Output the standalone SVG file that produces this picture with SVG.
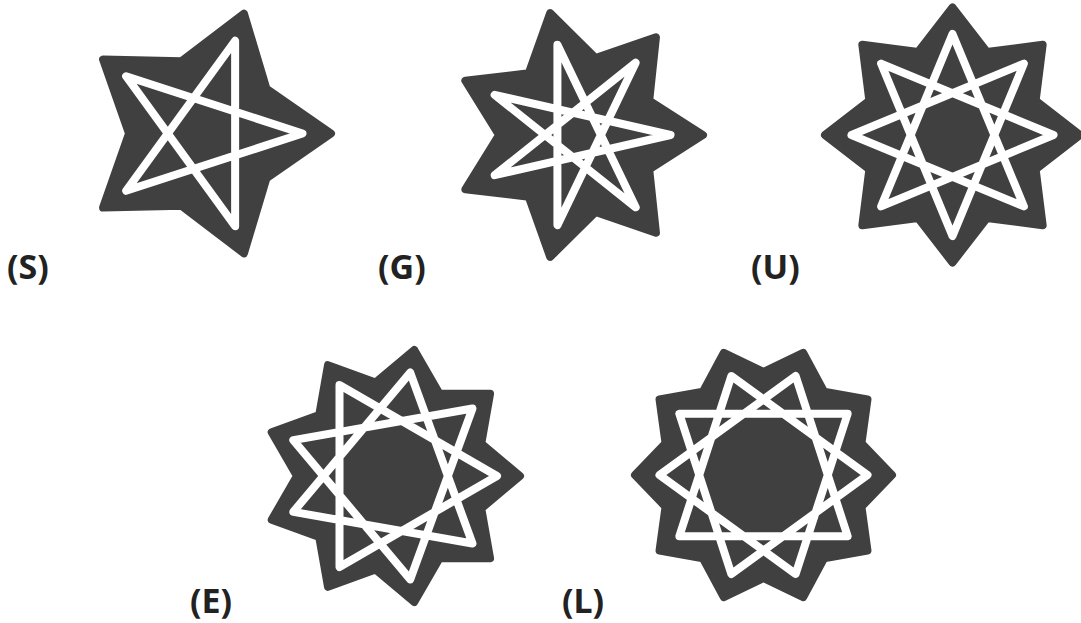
<svg xmlns="http://www.w3.org/2000/svg" width="1081" height="623" viewBox="0 0 1081 623">
<style>
.dark{fill:#404040;stroke:#404040;stroke-width:8;stroke-linejoin:round}
.line{fill:none;stroke:#ffffff;stroke-width:8;stroke-linejoin:round;stroke-linecap:round}
.lbl{font-family:"Noto Sans","Open Sans","DejaVu Sans",sans-serif;font-weight:bold;font-size:34px;fill:#222222}
</style>
<rect width="1081" height="623" fill="#ffffff"/>
<g id="star-S" transform="translate(205,133.5)">
<polygon class="dark" points="126,0 61.49,44.67 38.94,119.83 -23.49,72.28 -101.94,74.06 -76,0 -101.94,-74.06 -23.49,-72.28 38.94,-119.83 61.49,-44.67"/>
<path class="line" d="M97.5,0 L-78.88,57.31 L30.13,-92.73 L30.13,92.73 L-78.88,-57.31 Z"/>
</g>
<g id="star-G" transform="translate(578,135)">
<polygon class="dark" points="125,0 71.18,34.28 77.94,97.73 17.58,77.02 -27.82,121.87 -49.26,61.76 -112.62,54.24 -79,0 -112.62,-54.24 -49.26,-61.76 -27.82,-121.87 17.58,-77.02 77.94,-97.73 71.18,-34.28"/>
<path class="line" d="M92.5,0 L-83.34,40.13 L57.67,-72.32 L-20.58,90.18 L-20.58,-90.18 L57.67,72.32 L-83.34,-40.13 Z"/>
</g>
<g id="star-U" transform="translate(952.5,135)">
<polygon class="dark" points="127.5,0 83.15,34.44 90.16,90.16 34.44,83.15 0,127.5 -34.44,83.15 -90.16,90.16 -83.15,34.44 -127.5,0 -83.15,-34.44 -90.16,-90.16 -34.44,-83.15 0,-127.5 34.44,-83.15 90.16,-90.16 83.15,-34.44"/>
<path class="line" d="M101,0 L-71.42,71.42 L0,-101 L71.42,71.42 L-101,0 L71.42,-71.42 L0,101 L-71.42,-71.42 Z"/>
</g>
<g id="star-E" transform="translate(392,476)">
<polygon class="dark" points="128,0 89.27,32.49 98.05,82.28 47.5,82.27 22.23,126.06 -16.5,93.56 -64,110.85 -72.77,61.06 -120.28,43.78 -95,0 -120.28,-43.78 -72.77,-61.06 -64,-110.85 -16.5,-93.56 22.23,-126.06 47.5,-82.27 98.05,-82.28 89.27,-32.49"/>
<path class="line" d="M105,0 L-52.5,90.93 L-52.5,-90.93 Z M80.43,67.49 L-98.67,35.91 L18.23,-103.4 Z M18.23,103.4 L-98.67,-35.91 L80.43,-67.49 Z"/>
</g>
<g id="star-L" transform="translate(763.5,475)">
<polygon class="dark" points="128.5,0 97.96,31.83 103.96,75.53 60.54,83.33 39.71,122.21 0,103 -39.71,122.21 -60.54,83.33 -103.96,75.53 -97.96,31.83 -128.5,0 -97.96,-31.83 -103.96,-75.53 -60.54,-83.33 -39.71,-122.21 0,-103 39.71,-122.21 60.54,-83.33 103.96,-75.53 97.96,-31.83"/>
<path class="line" d="M104,0 L-32.14,98.91 L-84.14,-61.13 L84.14,-61.13 L32.14,98.91 L-104,0 L32.14,-98.91 L84.14,61.13 L-84.14,61.13 L-32.14,-98.91 Z"/>
</g>
<g id="labels">
<text id="label-S" class="lbl" x="7" y="279">(S)</text>
<text id="label-G" class="lbl" x="378" y="279">(G)</text>
<text id="label-U" class="lbl" x="751" y="279">(U)</text>
<text id="label-E" class="lbl" x="190" y="613">(E)</text>
<text id="label-L" class="lbl" x="562" y="613">(L)</text>
</g>
</svg>
